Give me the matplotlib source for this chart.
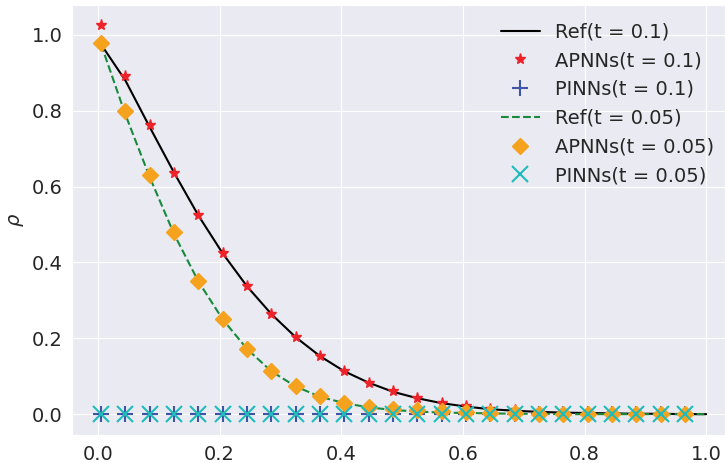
import numpy as np
import matplotlib
matplotlib.use('Agg')
import matplotlib.pyplot as plt
import seaborn as sns

sns.set_style('darkgrid')

# sample points of the network predictions
x_pts = [0.005, 0.045, 0.085, 0.125, 0.165, 0.205, 0.245, 0.285, 0.325, 0.365,
         0.405, 0.445, 0.485, 0.525, 0.565, 0.605, 0.645, 0.685, 0.725, 0.765,
         0.805, 0.845, 0.885, 0.925, 0.965]

# reference solutions
x_ref = x_pts + [1.0]
ref_01 = [0.975, 0.880, 0.757, 0.637, 0.524, 0.424, 0.337, 0.264, 0.203, 0.153,
          0.113, 0.083, 0.059, 0.042, 0.029, 0.020, 0.013, 0.009, 0.006, 0.004,
          0.003, 0.002, 0.001, 0.001, 0.000, 0.000]
ref_005 = [0.975, 0.790, 0.625, 0.475, 0.350, 0.250, 0.172, 0.113, 0.073, 0.046,
           0.029, 0.018, 0.011, 0.007, 0.004, 0.003, 0.002, 0.001, 0.001, 0.000,
           0.000, 0.000, 0.000, 0.000, 0.000, 0.000]

# APNNs predictions
apnn_01 = [1.027, 0.893, 0.763, 0.637, 0.525, 0.424, 0.337, 0.264, 0.203, 0.153,
           0.113, 0.083, 0.060, 0.043, 0.030, 0.021, 0.014, 0.010, 0.006, 0.004,
           0.003, 0.002, 0.001, 0.001, 0.000]
apnn_005 = [0.980, 0.800, 0.630, 0.480, 0.352, 0.250, 0.172, 0.113, 0.073, 0.047,
            0.030, 0.020, 0.014, 0.010, 0.007, 0.005, 0.003, 0.002, 0.001, 0.001,
            0.000, 0.000, 0.000, 0.000, 0.000]

# PINNs predictions (collapse to zero)
pinn_01 = [0.0] * 25
pinn_005 = [0.0] * 25

fig = plt.figure(figsize=(7.25, 4.63), dpi=100)
ax = fig.add_axes([72 / 725, 28 / 463, 653 / 725, 430 / 463])

ax.plot(x_ref, ref_01, color='black', lw=1.5, label='Ref(t = 0.1)')
ax.plot(x_pts, apnn_01, '*', color='#ee2229', ms=8, label='APNNs(t = 0.1)')
ax.plot(x_pts, pinn_01, '+', color='#3f55a8', ms=11.5, mew=1.5, label='PINNs(t = 0.1)')
ax.plot(x_ref, ref_005, '--', color='#178a3c', lw=1.5, label='Ref(t = 0.05)')
ax.plot(x_pts, apnn_005, 'D', color='#f5a21e', ms=8, label='APNNs(t = 0.05)')
ax.plot(x_pts, pinn_005, 'x', color='#1fbcbc', ms=11.5, mew=1.5, label='PINNs(t = 0.05)')

ax.set_xlim(-0.0428, 1.031)
ax.set_ylim(-0.055, 1.079)
ax.set_xticks([0.0, 0.2, 0.4, 0.6, 0.8, 1.0])
ax.set_yticks([0.0, 0.2, 0.4, 0.6, 0.8, 1.0])
ax.tick_params(labelsize=14)
ax.set_ylabel(r'$\rho$', fontsize=14)

ax.legend(loc='upper right', bbox_to_anchor=(1.0 + 7 / 653, 1.0),
          fontsize=14, frameon=False)

fig.savefig('out.png', dpi=100)
